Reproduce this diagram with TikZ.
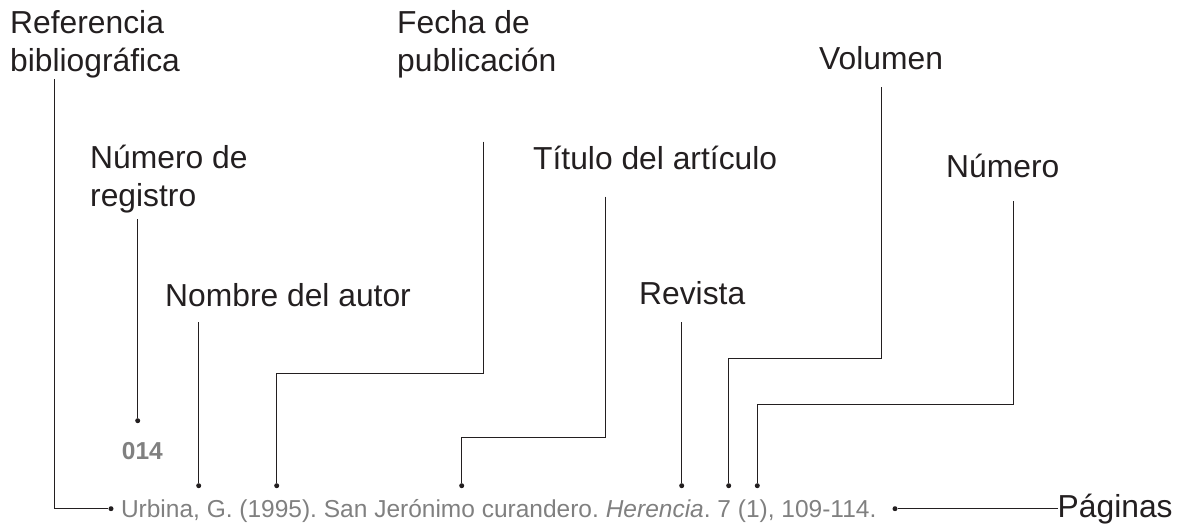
\documentclass[tikz,border=0pt]{standalone}
\usepackage{fontspec}
\setmainfont{Liberation Sans}
\frenchspacing

\definecolor{tinta}{HTML}{231F20}
\definecolor{gris}{HTML}{808080}

\tikzset{
  etiq/.style={anchor=base west, inner sep=0pt, align=left, text=tinta,
    font=\fontsize{31.8}{37.8}\selectfont},
  cita/.style={anchor=base west, inner sep=0pt, text=gris,
    font=\fontsize{24.5}{29}\selectfont},
  punto/.style={circle, fill=tinta, inner sep=0pt, minimum size=5pt},
  guia/.style={draw=tinta, line width=1pt},
}

\begin{document}
\begin{tikzpicture}[x=1pt, y=-1pt]
  \useasboundingbox (0,0) rectangle (1192,524);

  % rotulos (base = ultima linea)
  \node[etiq] (refl) at (10,71.5)    {Referencia\\bibliográfica};
  \node[etiq] (fecl) at (397,71.5)   {Fecha de\\publicación};
  \node[etiq] (voll) at (819,70)     {Volumen};
  \node[etiq] (regl) at (90,206.5)   {Número de\\registro};
  \node[etiq] (titl) at (533,169.3)  {Título del artículo};
  \node[etiq] (numl) at (946,177.7)  {Número};
  \node[etiq] (autl) at (165,306)    {Nombre del autor};
  \node[etiq] (revl) at (639,304)    {Revista};
  \node[etiq] (pagl) at (1057.5,517.7) {Páginas};

  % la cita
  \node[cita, font=\fontsize{24.5}{29}\selectfont\bfseries] (reg) at (121.7,459.3) {014};
  \node[cita] (cita) at (120.8,517.7)
    {Urbina, G. (1995). San Jerónimo curandero. \textit{Herencia}. 7 (1), 109-114.};

  % puntos
  \node[punto] (refd) at (111,508.7) {};
  \node[punto] (regd) at (137.7,420.7) {};
  \node[punto] (autd) at (198.7,485.7) {};
  \node[punto] (fecd) at (276.7,485.7) {};
  \node[punto] (titd) at (461.7,485.7) {};
  \node[punto] (revd) at (681.7,485.7) {};
  \node[punto] (vold) at (728.7,485.7) {};
  \node[punto] (numd) at (757.3,485.7) {};
  \node[punto] (pagd) at (895,508.7) {};

  \coordinate (reft) at (54,79.3);
  \coordinate (regt) at (137.7,219);
  \coordinate (autt) at (198.7,322);
  \coordinate (fect) at (483.3,141.7);
  \coordinate (titt) at (605,196.7);
  \coordinate (revt) at (681.7,322);
  \coordinate (volt) at (881.3,87.3);
  \coordinate (numt) at (1013.3,201);

  % lineas
  \draw[guia] (reft) |- (refd);
  \draw[guia] (regt) -- (regd);
  \draw[guia] (autt) -- (autd);
  \draw[guia] (fect) -- ++(0,231.6) -| (fecd);
  \draw[guia] (titt) -- ++(0,240.6) -| (titd);
  \draw[guia] (revt) -- (revd);
  \draw[guia] (volt) -- ++(0,271) -| (vold);
  \draw[guia] (numt) -- ++(0,203.3) -| (numd);
  \draw[guia] (pagd) -- (pagd -| pagl.west);
\end{tikzpicture}
\end{document}
